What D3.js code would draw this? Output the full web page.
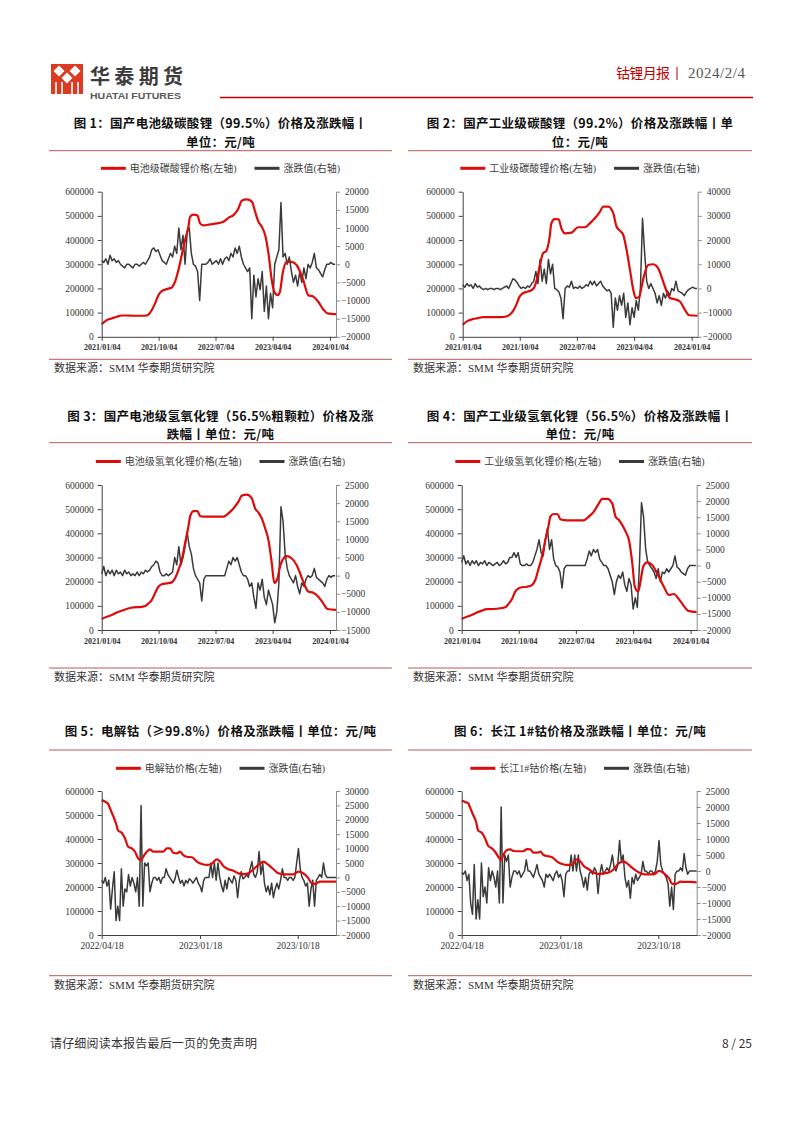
<!DOCTYPE html>
<html>
<head>
<meta charset="utf-8">
<script src="https://cdn.jsdelivr.net/npm/d3@7"></script>
<style>
  html, body { margin: 0; padding: 0; background: #fff; }
  svg { display: block; }
</style>
</head>
<body>
<svg id="page" width="802" height="1133"></svg>
<script>
// ---- lithium price series (left axis), sampled dates ----
const litPriceDates = [
  '2021-01-04','2021-01-28','2021-02-21','2021-03-17','2021-04-10','2021-05-04','2021-06-05','2021-07-07','2021-07-31','2021-08-16',
  '2021-09-01','2021-09-17','2021-10-03','2021-10-19','2021-11-12','2021-12-06','2021-12-22','2022-01-07','2022-01-23','2022-02-08',
  '2022-02-24','2022-03-04','2022-03-20','2022-04-08','2022-04-21','2022-05-07','2022-06-08','2022-07-10','2022-08-11','2022-09-04',
  '2022-09-28','2022-10-22','2022-11-07','2022-12-01','2022-12-25','2023-01-10','2023-01-26','2023-02-11','2023-02-27','2023-03-15',
  '2023-03-31','2023-04-12','2023-04-28','2023-05-09','2023-05-22','2023-06-10','2023-07-04','2023-07-28','2023-08-29','2023-09-22',
  '2023-10-16','2023-11-09','2023-12-03','2023-12-23','2024-02-02'
];
const batteryCarbonatePrice = [
  52000, 69000, 76000, 83000, 88000, 88000, 87000, 87000, 87000, 92000,
  110000, 138000, 172000, 189000, 197000, 204000, 228000, 276000, 338000, 400000,
  455000, 497000, 505000, 502000, 469000, 461000, 465000, 469000, 476000, 492000,
  503000, 531000, 563000, 568000, 559000, 517000, 476000, 455000, 421000, 345000,
  234000, 186000, 172000, 186000, 262000, 310000, 310000, 297000, 234000, 172000,
  166000, 145000, 113000, 97000, 94000
];
const industrialCarbonatePrice = [
  50000, 66000, 73000, 77000, 81000, 81000, 81000, 81000, 84000, 91000,
  105000, 132000, 166000, 180000, 187000, 197000, 228000, 290000, 345000, 355000,
  414000, 469000, 487000, 486000, 449000, 428000, 431000, 453000, 453000, 469000,
  490000, 517000, 538000, 538000, 511000, 455000, 439000, 421000, 359000, 277000,
  194000, 160000, 165000, 205000, 255000, 297000, 300000, 283000, 208000, 160000,
  155000, 146000, 111000, 89000, 87000
];
const batteryHydroxidePrice = [
  46000, 55000, 62000, 72000, 80000, 87000, 94000, 95000, 99000, 110000,
  124000, 152000, 179000, 189000, 193000, 197000, 214000, 248000, 290000, 359000,
  428000, 469000, 492000, 492000, 472000, 469000, 469000, 469000, 469000, 483000,
  503000, 531000, 556000, 560000, 545000, 503000, 486000, 462000, 421000, 372000,
  276000, 195000, 215000, 262000, 290000, 306000, 297000, 269000, 200000, 159000,
  154000, 138000, 110000, 87000, 83000
];
const industrialHydroxidePrice = [
  46000, 55000, 62000, 72000, 80000, 86000, 87000, 90000, 94000, 108000,
  127000, 159000, 172000, 177000, 179000, 186000, 207000, 255000, 303000, 372000,
  434000, 469000, 480000, 479000, 458000, 455000, 454000, 454000, 454000, 469000,
  490000, 524000, 543000, 543000, 524000, 469000, 455000, 434000, 407000, 372000,
  276000, 179000, 159000, 200000, 262000, 280000, 269000, 234000, 179000, 145000,
  149000, 127000, 99000, 80000, 74000
];

// ---- lithium daily change (right axis), one value every 10 days from 2021-01-04 ----
const litChangeStart = '2021-01-04';
const litChangeStepDays = 10;
const batteryCarbonateChange = [
  1000, 500, 1500, 0, 2500, 1000, 1500, 500, 1000, 0,
  -500, -1000, 0, 0, -500, -1000, 0, 0, -500, 0,
  500, 0, 1000, 2000, 4000, 4500, 3500, 4000, 2500, 1000,
  500, 0, 1500, 3000, 2000, 5000, 3000, 10000, 4000, 8000,
  0, 9000, 10000, 3000, 0, -500, -2000, -10000, 0, 0,
  0, 500, 1500, 0, 500, 1000, 0, 1500, 0, 1500,
  2000, 1000, 3000, 2000, 4500, 3000, 5000, 2000, 0, -1000,
  -2000, -1000, -15000, -3000, -9000, -4000, -7000, -2000, -13000, -6000,
  -15000, -8000, -12000, 0, 2000, 4000, 17000, 2000, 3000, 0,
  2000, -2000, -5000, -3000, -6000, -2000, -5000, -1000, -4000, 0,
  -1000, 500, 3000, -1000, -1500, -2500, -3500, -1500, 0, 0,
  500, 0, 0
];
const industrialCarbonateChange = [
  1500, 500, 2000, 1000, 1500, 0, 2000, 500, 1000, 0,
  -500, 0, -500, 0, 0, -500, 0, 0, -500, 0,
  500, 1000, 0, 2000, 4000, 3500, 2500, 1000, 0, 500,
  0, 1000, 500, 2000, 3000, 7000, 2000, 12000, 3000, 8000,
  2000, 12000, 6000, 10000, 0, -500, -1500, -4000, -12500, 0,
  1000, 500, 3000, 0, 500, 0, 1000, 0, 500, 1500,
  1000, 3000, 1500, 3000, 1000, 2000, 3000, 1000, 0, -1000,
  -500, -2000, -16000, -4000, -9000, -3000, -7000, -2000, -12000, -6000,
  -15000, -8000, -12000, -5000, -9000, 0, 29000, 15000, 3000, 0,
  2000, 0, -2000, -6000, -3000, -7000, -2000, -4000, -1000, -3000,
  0, -1000, 3000, -1000, -1500, -2000, -3000, -1500, -500, 0,
  500, 0, 0
];
const batteryHydroxideChange = [
  500, 2500, 0, 1500, 500, 1500, 0, 1500, 500, 1000,
  0, 1500, 500, 1000, 0, 500, 0, 1000, 0, 1000,
  500, 1500, 1000, 1500, 2500, 3000, 4000, 3500, 1000, 0,
  0, 500, 0, 500, 1000, 5000, 3000, 8000, 3000, 5000,
  8000, 12000, 8000, 6000, 2000, 0, -1000, -2000, -7000, -1000,
  0, 0, 0, 0, 0, 0, 0, 0, 0, 0,
  2000, 4000, 3000, 5000, 4000, 5000, 3000, 1000, 0, 0,
  -1000, -3000, -2000, -6000, -9000, -2000, -4000, -1000, -6000, -8000,
  -4000, -6000, -8000, -13000, -10000, -2000, 19000, 15000, 6000, 2000,
  0, -1000, -2000, 0, -3000, -5000, -2000, -3000, -1000, 0,
  -500, 0, 2000, -500, -1000, -1500, -2000, -3000, -1000, 0,
  -500, 0, 0
];
const industrialHydroxideChange = [
  1000, 3000, 500, 1500, 0, 1500, 500, 1500, 0, 1000,
  500, 1500, 0, 1000, 500, 0, 500, 1000, 0, 500,
  1500, 500, 1000, 2500, 2500, 4000, 2500, 4000, 500, 0,
  0, 500, 0, 0, 1000, 3000, 5000, 8000, 4000, 3000,
  8000, 11500, 5000, 8000, 2000, 0, -500, -2000, -7000, -1000,
  0, 0, 0, 0, 0, 0, 0, 0, 0, 0,
  2000, 4500, 3000, 5000, 4000, 5000, 2000, 1000, 0, 0,
  -1000, -3000, -5000, -9000, -5000, -3000, -4000, -2000, -6000, -8000,
  -4000, -6000, -13500, -10000, -13000, 0, 19500, 15000, 5000, 1000,
  0, -1000, -2000, -4000, -1000, -5000, -2000, -2500, -1000, -2000,
  -1000, 0, 3000, -500, -1000, -2000, -2500, -3000, -1000, 0,
  0, 0, 0
];

// ---- cobalt price series (left axis), sampled dates ----
const cobaltPriceDates = [
  '2022-04-18','2022-04-27','2022-05-06','2022-05-13','2022-05-20','2022-05-28','2022-06-03','2022-06-13','2022-06-22','2022-07-01',
  '2022-07-11','2022-07-20','2022-07-29','2022-08-06','2022-08-12','2022-08-22','2022-08-31','2022-09-09','2022-09-23','2022-10-07',
  '2022-10-17','2022-10-26','2022-11-04','2022-11-14','2022-11-23','2022-12-02','2022-12-12','2022-12-26',
  '2023-01-09','2023-01-23','2023-02-05','2023-02-19','2023-03-05','2023-03-15','2023-03-24','2023-04-07','2023-04-21','2023-05-05',
  '2023-05-19','2023-06-02','2023-06-16','2023-06-30','2023-07-14','2023-07-28','2023-08-11','2023-08-25','2023-09-08','2023-09-22',
  '2023-10-06','2023-10-20','2023-11-03','2023-11-17','2023-11-26','2023-12-05','2023-12-19',
  '2024-01-02','2024-01-16','2024-02-02'
];
const electroCobaltPrice = [
  562000, 556000, 546000, 521000, 496000, 465000, 435000, 426000, 403000, 368000,
  361000, 347000, 319000, 312000, 326000, 347000, 357000, 347000, 347000, 347000,
  361000, 361000, 343000, 340000, 347000, 333000, 326000, 324000,
  306000, 296000, 292000, 296000, 315000, 306000, 288000, 274000, 268000, 257000,
  254000, 257000, 274000, 292000, 306000, 292000, 274000, 257000, 253000, 253000,
  253000, 264000, 257000, 236000, 215000, 213000, 222000,
  222000, 222000, 222000
];
const changjiangCobaltPrice = [
  560000, 554000, 549000, 525000, 500000, 472000, 435000, 426000, 403000, 371000,
  361000, 347000, 326000, 312000, 333000, 354000, 357000, 350000, 349000, 349000,
  358000, 357000, 343000, 343000, 347000, 333000, 329000, 324000,
  306000, 296000, 292000, 292000, 315000, 306000, 288000, 274000, 260000, 254000,
  257000, 261000, 274000, 299000, 306000, 292000, 274000, 260000, 253000, 253000,
  253000, 267000, 257000, 236000, 213000, 213000, 222000,
  221000, 221000, 219000
];

// ---- cobalt daily change (right axis), one value every 5 days from 2022-04-18 ----
const cobaltChangeStart = '2022-04-18';
const cobaltChangeStepDays = 5;
const electroCobaltChange = [
  -1000, -2000, 0, -3000, -1000, -11000, -4000, 2000, -15000, -10000,
  -15000, 3000, -10000, -4000, -5000, 1000, -3000, 0, -2000, -5000,
  0, -10000, 25000, -10000, 5000, 4000, 5000, -5000, -2000, 0,
  0, -1000, 0, -2000, 0, 0, 3000, 1000, 0, -1000,
  -2000, -500, 2500, 0, -2000, -1000, -3000, -1000, -2000, -500,
  -1000, -2000, -1000, 0, -2000, -3000, -5000, -1000, 0, 0,
  0, 5000, 0, 5000, -1000, 5000, 0, -3000, -5000, -1000,
  -4000, 0, -1000, -2000, 500, -1000, -7000, -1000, 2000, -500,
  0, 1000, 0, 3000, 5500, 1000, 0, 2000, 9000, 1000,
  5000, -2000, -5000, -3000, -6000, -2000, -7000, -4000, -2000, -4000,
  -1000, 3000, 0, 0, -1000, 0, 0, -1000, 0, 5000,
  10000, 3000, 0, -1000, -3000, -2000, -10000, -4000, -1000, -10000,
  -1000, 0, 1000, 0, 5000, 1000, 0, 0, 0, 0,
  0, 0
];
const changjiangCobaltChange = [
  -500, -1000, 0, -3000, -1000, -10000, -13500, 2000, -15000, -9000,
  -15000, 2500, -8000, -5000, -10000, 1000, -3000, 0, -2000, -5000,
  0, -10000, 20000, -10000, 5000, 3000, 5000, -5000, -2000, 0,
  0, -1000, 0, -2000, -1000, 0, 3500, 0, 0, -1000,
  -2000, 0, 2000, -1000, -2000, -3000, -5000, -1000, -2000, -1000,
  -2000, -3000, -1000, 0, -2000, -1000, -3000, -8000, -1000, 0,
  0, 5000, 0, 5000, 0, 5000, 0, -2000, -5000, -2000,
  -6000, -1000, 0, -1000, 1000, 0, -7000, -1000, 2000, -1000,
  0, 1000, 0, 2000, 5000, 1000, 0, 2000, 9500, 3000,
  5000, -2000, -5000, -3000, -8500, -2000, -4000, -1000, -3000, -2000,
  -1000, 3000, 0, 0, -1000, 0, 0, -1000, 0, 3000,
  9500, 2000, 0, -1000, -2000, -4000, -11000, -5000, -12000, -1000,
  0, 0, 1000, 0, 5500, 1000, -1000, 0, 0, 0,
  0, 0
];

// ---- axis ticks ----
const litDateTicks = ['2021-01-04', '2021-10-04', '2022-07-04', '2023-04-04', '2024-01-04'];
const cobaltDateTicks = ['2022-04-18', '2023-01-18', '2023-10-18'];
const priceTicks = [0, 100000, 200000, 300000, 400000, 500000, 600000];
const changeTicks1 = [-20000, -15000, -10000, -5000, 0, 5000, 10000, 15000, 20000];
const changeTicks2 = [-20000, -10000, 0, 10000, 20000, 30000, 40000];
const changeTicks3 = [-15000, -10000, -5000, 0, 5000, 10000, 15000, 20000, 25000];
const changeTicks4 = [-20000, -15000, -10000, -5000, 0, 5000, 10000, 15000, 20000, 25000];
const changeTicks5 = [-20000, -15000, -10000, -5000, 0, 5000, 10000, 15000, 20000, 25000, 30000];
const changeTicks6 = [-20000, -15000, -10000, -5000, 0, 5000, 10000, 15000, 20000, 25000];

const RED = '#de0b0b';
const DARK = '#3a3a3a';
const RULE = '#b85a56';
const CJK = "'Noto Sans CJK SC', sans-serif";
const SERIF = "'Liberation Serif', 'Noto Sans CJK SC', serif";
const parse = d3.utcParse('%Y-%m-%d');
const stepDates = (start, step, n) => d3.range(n).map((i) => d3.utcDay.offset(parse(start), i * step));

const svg = d3.select('#page');

// ---- page header ----
const head = svg.append('g');
head.append('rect').attr('x', 51).attr('y', 64).attr('width', 32).attr('height', 30).attr('fill', '#dc3b22');
[[59, 71], [75, 71], [67, 78]].forEach(([cx, cy]) => {
  head.append('path').attr('d', `M${cx},${cy - 5.5}L${cx + 5.5},${cy}L${cx},${cy + 5.5}L${cx - 5.5},${cy}Z`).attr('fill', '#fff');
});
[56, 62, 72, 78].forEach((x) => head.append('rect').attr('x', x - 0.8).attr('y', 82).attr('width', 1.6).attr('height', 12).attr('fill', '#fff'));
head.append('text').attr('x', 90).attr('y', 77).attr('dy', '0.35em').attr('font-family', CJK).attr('font-size', 20).attr('font-weight', 700)
  .attr('fill', '#3c3c3c').attr('textLength', 93).attr('lengthAdjust', 'spacing').text('华泰期货');
head.append('text').attr('x', 90).attr('y', 96).attr('dy', '0.35em').attr('font-family', "'Liberation Sans', sans-serif").attr('font-size', 9.5)
  .attr('font-weight', 700).attr('fill', '#5a5a5a').attr('textLength', 91).attr('lengthAdjust', 'spacingAndGlyphs').text('HUATAI FUTURES');
head.append('text').attr('x', 616).attr('y', 73).attr('dy', '0.35em').attr('font-family', CJK).attr('font-size', 14)
  .attr('fill', '#c00000').attr('textLength', 54).text('钴锂月报');
head.append('line').attr('x1', 677).attr('x2', 677).attr('y1', 67).attr('y2', 80).attr('stroke', '#c00000').attr('stroke-width', 1);
head.append('text').attr('x', 688).attr('y', 73).attr('dy', '0.35em').attr('font-family', SERIF).attr('font-size', 15)
  .attr('fill', '#555').attr('textLength', 57).text('2024/2/4');
head.append('line').attr('x1', 220).attr('x2', 753).attr('y1', 97.5).attr('y2', 97.5).attr('stroke', '#c00000').attr('stroke-width', 1.5);

// ---- footer ----
svg.append('text').attr('x', 50).attr('y', 1044).attr('dy', '0.35em').attr('font-family', CJK).attr('font-size', 12)
  .attr('fill', '#333').attr('textLength', 207).text('请仔细阅读本报告最后一页的免责声明');
svg.append('text').attr('x', 752).attr('y', 1044).attr('dy', '0.35em').attr('text-anchor', 'end').attr('font-family', CJK)
  .attr('font-size', 12).attr('fill', '#333').text('8 / 25');

const LEFT = [49, 392];
const RIGHT = [408, 752];
const rowA = { titleY: [123.8, 142.4], ruleTop: 150.7, legendY: 168.3, t: 191.7, b: 336.8, ruleBottom: 359.3, sourceY: 368.5 };
const rowB = { titleY: [416.2, 434.6], ruleTop: 442.7, legendY: 461.5, t: 485, b: 630, ruleBottom: 668, sourceY: 677 };
const rowC = { titleY: [731.5], ruleTop: 750, legendY: 768.3, t: 791, b: 935, ruleBottom: 975.7, sourceY: 985 };

const lit = { start: '2021-01-04', end: '2024-02-02', priceDates: litPriceDates, chgStart: litChangeStart, step: litChangeStepDays, xTicks: litDateTicks, xBold: true };
const cob = { start: '2022-04-18', end: '2024-02-02', priceDates: cobaltPriceDates, chgStart: cobaltChangeStart, step: cobaltChangeStepDays, xTicks: cobaltDateTicks, xBold: false };

const charts = [
  { ...lit, ...rowA, panel: LEFT, l: 101.7, r: 336, title: ['图 1：国产电池级碳酸锂（99.5%）价格及涨跌幅丨', '单位：元/吨'],
    priceName: '电池级碳酸锂价格(左轴)', price: batteryCarbonatePrice, chg: batteryCarbonateChange, rightTicks: changeTicks1 },
  { ...lit, ...rowA, panel: RIGHT, l: 462.7, r: 697.7, title: ['图 2：国产工业级碳酸锂（99.2%）价格及涨跌幅丨单', '位：元/吨'],
    priceName: '工业级碳酸锂价格(左轴)', price: industrialCarbonatePrice, chg: industrialCarbonateChange, rightTicks: changeTicks2 },
  { ...lit, ...rowB, panel: LEFT, l: 101.7, r: 336, title: ['图 3：国产电池级氢氧化锂（56.5%粗颗粒）价格及涨', '跌幅丨单位：元/吨'],
    priceName: '电池级氢氧化锂价格(左轴)', price: batteryHydroxidePrice, chg: batteryHydroxideChange, rightTicks: changeTicks3 },
  { ...lit, ...rowB, panel: RIGHT, l: 461.7, r: 696.7, title: ['图 4：国产工业级氢氧化锂（56.5%）价格及涨跌幅丨', '单位：元/吨'],
    priceName: '工业级氢氧化锂价格(左轴)', price: industrialHydroxidePrice, chg: industrialHydroxideChange, rightTicks: changeTicks4 },
  { ...cob, ...rowC, panel: LEFT, l: 101.7, r: 336, title: ['图 5：电解钴（≥99.8%）价格及涨跌幅丨单位：元/吨'],
    priceName: '电解钴价格(左轴)', price: electroCobaltPrice, chg: electroCobaltChange, rightTicks: changeTicks5 },
  { ...cob, ...rowC, panel: RIGHT, l: 461.7, r: 696.7, title: ['图 6：长江 1#钴价格及涨跌幅丨单位：元/吨'],
    priceName: '长江1#钴价格(左轴)', price: changjiangCobaltPrice, chg: changjiangCobaltChange, rightTicks: changeTicks6 },
];

function drawChart(c) {
  const g = svg.append('g');
  const cx = (c.panel[0] + c.panel[1]) / 2;

  c.title.forEach((t, i) => g.append('text').attr('x', cx).attr('y', c.titleY[i]).attr('dy', '0.35em').attr('text-anchor', 'middle')
    .attr('font-family', CJK).attr('font-size', 12.5).attr('font-weight', 700).attr('letter-spacing', 0.3).attr('fill', '#111').text(t));
  [c.ruleTop, c.ruleBottom].forEach((y) => g.append('line').attr('x1', c.panel[0]).attr('x2', c.panel[1]).attr('y1', y).attr('y2', y)
    .attr('stroke', RULE).attr('stroke-width', 1));
  g.append('text').attr('x', c.panel[0] + 5).attr('y', c.sourceY).attr('dy', '0.35em').attr('font-family', SERIF).attr('font-size', 11)
    .attr('fill', '#333').text('数据来源：SMM 华泰期货研究院');

  // legend
  const lg = g.append('g');
  let lx = 0;
  [{ name: c.priceName, color: RED }, { name: '涨跌值(右轴)', color: DARK }].forEach((it, i) => {
    if (i) lx += 18;
    lg.append('line').attr('x1', lx).attr('x2', lx + 25).attr('y1', 0).attr('y2', 0).attr('stroke', it.color).attr('stroke-width', 3);
    lx += 29;
    const t = lg.append('text').attr('x', lx).attr('y', 0).attr('dy', '0.35em').attr('font-family', SERIF).attr('font-size', 10)
      .attr('fill', '#404040').text(it.name);
    lx += t.node().getComputedTextLength();
  });
  lg.attr('transform', `translate(${cx - lx / 2},${c.legendY})`);

  const x = d3.scaleUtc([parse(c.start), parse(c.end)], [c.l, c.r]);
  const yL = d3.scaleLinear([0, 600000], [c.b, c.t]);
  const yR = d3.scaleLinear(d3.extent(c.rightTicks), [c.b, c.t]);

  const chgDates = stepDates(c.chgStart, c.step, c.chg.length);
  g.append('path').datum(c.chg)
    .attr('d', d3.line().x((d, i) => x(chgDates[i])).y((d) => yR(d)))
    .attr('fill', 'none').attr('stroke', DARK).attr('stroke-width', 1.5).attr('stroke-linejoin', 'round');

  const pDates = c.priceDates.map(parse);
  g.append('path').datum(c.price)
    .attr('d', d3.line().curve(d3.curveMonotoneX).x((d, i) => x(pDates[i])).y((d) => yL(d)))
    .attr('fill', 'none').attr('stroke', RED).attr('stroke-width', 2.2).attr('stroke-linejoin', 'round');

  const axL = g.append('g').attr('transform', `translate(${c.l},0)`)
    .call(d3.axisLeft(yL).tickValues(priceTicks).tickFormat(d3.format('d')).tickSize(4).tickSizeOuter(0).tickPadding(4));
  const axR = g.append('g').attr('transform', `translate(${c.r},0)`)
    .call(d3.axisRight(yR).tickValues(c.rightTicks).tickFormat(d3.format('d')).tickSize(4).tickSizeOuter(0));
  axR.selectAll('.tick text').attr('x', (d) => (d < 0 ? 5 : 9));
  const axB = g.append('g').attr('transform', `translate(0,${c.b})`)
    .call(d3.axisBottom(x).tickValues(c.xTicks.map(parse)).tickFormat(d3.utcFormat('%Y/%m/%d')).tickSize(4).tickSizeOuter(0));
  axB.selectAll('.tick text').attr('y', 10.7).attr('dy', '0.35em')
    .attr('font-size', c.xBold ? 8 : 9.5).attr('font-weight', c.xBold ? 700 : 400);

  [axL, axR, axB].forEach((ax) => ax.attr('font-family', SERIF).attr('font-size', 9.5));
  [axL, axB].forEach((ax) => { ax.selectAll('path,line').attr('stroke', '#404040'); ax.selectAll('text').attr('fill', '#333'); });
  axR.selectAll('path,line').attr('stroke', '#8c8c8c');
  axR.selectAll('text').attr('fill', '#333');
}

charts.forEach(drawChart);
</script>
</body>
</html>
